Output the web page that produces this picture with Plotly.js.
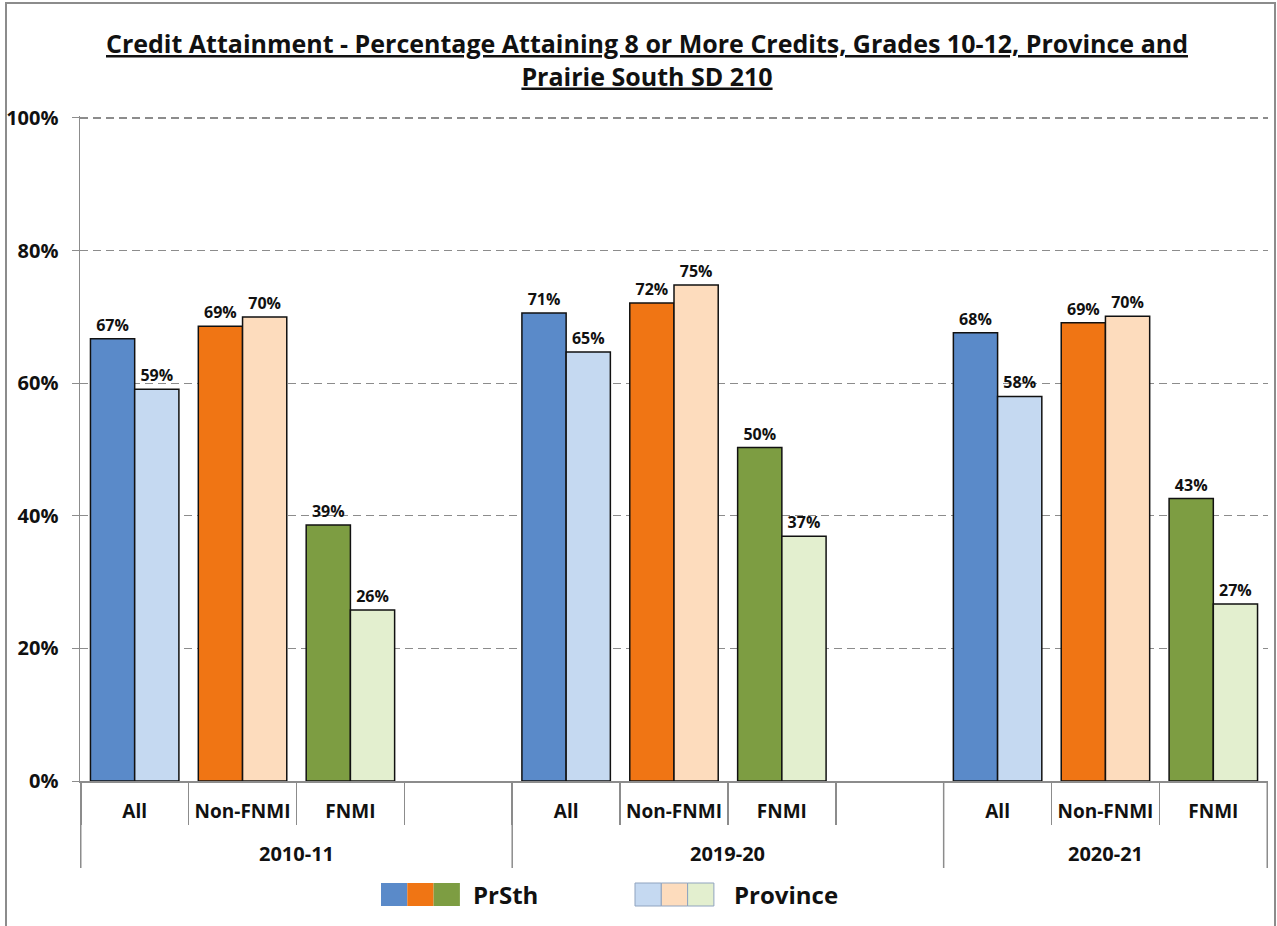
<!DOCTYPE html>
<html><head><meta charset="utf-8">
<script src="https://cdn.plot.ly/plotly-3.0.1.min.js"></script>
<style>
html,body{margin:0;padding:0;background:#fff;overflow:hidden;}
#frame{position:absolute;left:5px;top:2px;width:1267px;height:940px;border:2px solid #8c8c8c;}
#chart{position:absolute;left:0;top:0;width:1277px;height:926px;}
</style></head>
<body>
<div id="frame"></div>
<div id="chart"></div>
<script>
const years = ["2010-11","2010-11","2010-11","2010-11","2019-20","2019-20","2019-20","2019-20","2020-21","2020-21","2020-21"];
const groups = ["All","Non-FNMI","FNMI","","All","Non-FNMI","FNMI","","All","Non-FNMI","FNMI"];
const prsth = [66.7, 68.6, 38.6, null, 70.6, 72.1, 50.3, null, 67.6, 69.1, 42.6];
const province = [59.1, 70.0, 25.8, null, 64.7, 74.8, 36.9, null, 58.0, 70.1, 26.7];
const yearLabels = ["2010-11","2019-20","2020-21"];
const darkColors = {"All":"#5A8AC9","Non-FNMI":"#F07514","FNMI":"#7D9D42"};
const lightColors = {"All":"#C5D9F1","Non-FNMI":"#FDDCBD","FNMI":"#E3EFCF"};
const yTicks = [0,20,40,60,80,100];
const yTickText = ["0%","20%","40%","60%","80%","100%"];
const legendNames = ["PrSth","Province"];

const fontFam = "Open Sans, Noto Sans, sans-serif";
const keys = years.map((y,i)=> y+"|"+i);
const dc = groups.map(g => darkColors[g] || "#fff");
const lc = groups.map(g => lightColors[g] || "#fff");

const txtFont = {family:fontFam, size:16, color:"#111", weight:"bold"};
const traces = [
  {type:"bar", name:legendNames[0], x:keys, y:prsth,
   marker:{color:dc, line:{color:"#111", width:1.5}},
   texttemplate:"%{y:.0f}%", textposition:"outside", cliponaxis:false, constraintext:"none",
   textfont:txtFont, hoverinfo:"skip"},
  {type:"bar", name:legendNames[1], x:keys, y:province,
   marker:{color:lc, line:{color:"#111", width:1.5}},
   texttemplate:"%{y:.0f}%", textposition:"outside", cliponaxis:false, constraintext:"none",
   textfont:txtFont, hoverinfo:"skip"}
];

const X0 = 80, X1 = 1268, Y0 = 781, Y1 = 116;
function px2paperX(px){ return (px-X0)/(X1-X0); }
function px2paperY(py){ return (Y0-py)/(Y0-Y1); }

const shapes = [];
const annotations = [];

// group dividers and year labels (positions from category indices)
const firstIdx = {}, lastIdx = {};
years.forEach((y,i)=>{ if(!(y in firstIdx)) firstIdx[y]=i; lastIdx[y]=i; });
const bounds = new Set();
yearLabels.forEach(y=>{
  bounds.add(firstIdx[y]-0.5); bounds.add(lastIdx[y]+0.5);
  const center = (firstIdx[y] + lastIdx[y]) / 2;
  annotations.push({xref:"x", yref:"paper", x:center, y:px2paperY(853), xanchor:"center", yanchor:"middle",
    showarrow:false, text:"<b>"+y+"</b>", font:{family:fontFam, size:20, color:"#111"}});
});
bounds.forEach(b=>{
  shapes.push({type:"line", xref:"x", yref:"paper", x0:b, x1:b, y0:0, y1:px2paperY(868),
    line:{color:"#8c8c8c", width:1.5}});
});

// custom legend
const legendSw = [
  {x0:381, cols:[darkColors["All"],darkColors["Non-FNMI"],darkColors["FNMI"]], text:legendNames[0], tx:471, line:"rgba(0,0,0,0)"},
  {x0:635, cols:[lightColors["All"],lightColors["Non-FNMI"],lightColors["FNMI"]], text:legendNames[1], tx:732, line:"#8fa3bf"}
];
legendSw.forEach(l=>{
  l.cols.forEach((c,i)=>{
    shapes.push({type:"rect", xref:"paper", yref:"paper",
      x0:px2paperX(l.x0+i*26.3), x1:px2paperX(l.x0+(i+1)*26.3),
      y0:px2paperY(906), y1:px2paperY(883),
      fillcolor:c, line:{color:l.line, width:1}});
  });
  annotations.push({xref:"paper", yref:"paper", x:px2paperX(l.tx), y:px2paperY(894),
    xanchor:"left", yanchor:"middle", showarrow:false, text:"<b>"+l.text+"</b>",
    font:{family:fontFam, size:24, color:"#111"}});
});

// title
annotations.push({xref:"paper", yref:"paper", x:px2paperX(647), y:px2paperY(60), xanchor:"center", yanchor:"middle",
  showarrow:false, align:"center",
  text:"<b><u>Credit Attainment - Percentage Attaining 8 or More Credits, Grades 10-12, Province and</u></b><br><b><u>Prairie South SD 210</u></b>",
  font:{family:fontFam, size:25, color:"#111"}});

const layout = {
  width:1277, height:926,
  margin:{l:X0, r:1277-X1, t:Y1, b:926-Y0},
  paper_bgcolor:"rgba(0,0,0,0)", plot_bgcolor:"#fff",
  showlegend:false,
  barmode:"group", bargap:0.18, bargroupgap:0,
  xaxis:{type:"category", tickvals:keys, ticktext:groups, tickangle:0, showline:true, linecolor:"#8c8c8c", linewidth:1.5,
    ticks:"outside", ticklen:42, tickcolor:"#8c8c8c", tickwidth:1.5, tickson:"boundaries",
    ticklabelstandoff:13,
    tickfont:{family:fontFam, size:19, color:"#111", weight:"bold"}, showgrid:false},
  yaxis:{range:[0,100.3], tickvals:yTicks, ticktext:yTickText, showline:true, linecolor:"#8c8c8c", linewidth:1.5,
    ticks:"outside", ticklen:7, tickcolor:"#8c8c8c", ticklabelstandoff:9,
    showgrid:true, gridcolor:"#8c8c8c", griddash:"8px,5px", gridwidth:1.2, zeroline:false,
    tickfont:{family:fontFam, size:20, color:"#111", weight:"bold"}},
  shapes:shapes, annotations:annotations
};
Plotly.newPlot("chart", traces, layout, {displayModeBar:false, staticPlot:true});
</script>
</body></html>
